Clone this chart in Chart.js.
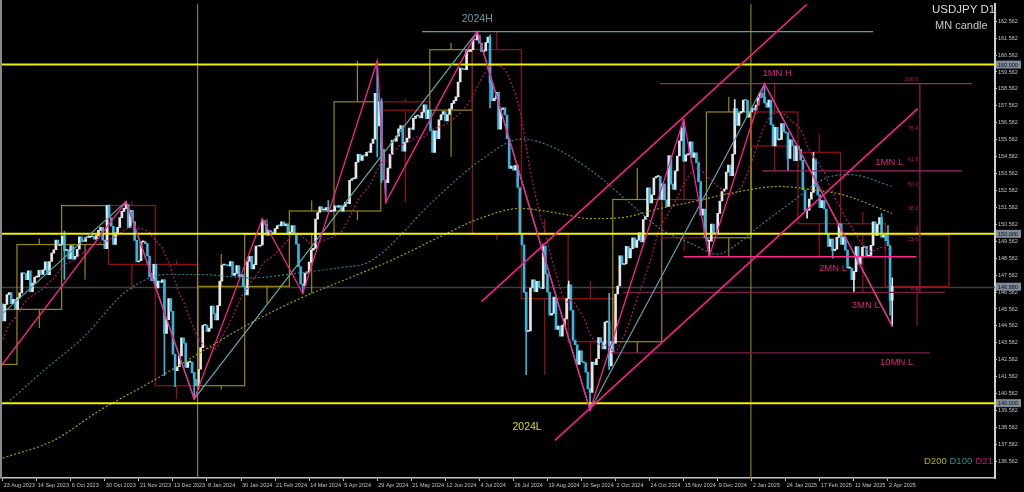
<!DOCTYPE html>
<html>
<head>
<meta charset="utf-8">
<style>
  html, body { margin: 0; padding: 0; background: #000; }
</style>
<script src="https://cdn.jsdelivr.net/npm/chart.js@4.4.1/dist/chart.umd.min.js"></script>
</head>
<body>
<canvas id="chart" width="1024" height="492"></canvas>
<script>
// ---------------- datos ----------------
// cierres previos (26 jul - 22 ago 2023), solo para la media D21
const preCloses = [140.23, 139.52, 141.17, 142.29, 143.31, 143.33, 142.56, 141.76, 142.47, 143.39,
  143.78, 144.72, 144.94, 145.56, 145.59, 146.35, 145.82, 145.38, 146.21, 145.87];

// cierres diarios USDJPY, 23 ago 2023 - 4 abr 2025 (una fila por semana)
const closes = [
  144.85, 145.83, 146.41,
  146.53, 145.88, 146.14, 145.54, 146.22,
  146.51, 147.70, 147.66, 147.30, 147.81,
  146.59, 147.09, 147.44, 147.46, 147.85,
  147.61, 147.87, 148.35, 147.59, 148.37,
  148.86, 149.06, 149.63, 149.31, 149.37,
  149.87, 149.02, 149.05, 148.52, 149.31,
  148.50, 148.67, 149.09, 149.82, 149.58,
  149.55, 149.79, 149.79, 149.83, 149.86,
  149.69, 149.90, 150.21, 150.39, 149.63,
  149.12, 151.67, 150.95, 150.45, 149.38,
  150.06, 150.38, 150.96, 151.33, 151.51,
  151.73, 150.38, 151.39, 150.73, 149.62,
  148.34, 148.41, 149.53, 149.55, 149.42,
  148.69, 147.45, 147.24, 148.20, 146.81,
  147.21, 147.13, 147.29, 144.12, 144.93,
  146.17, 145.42, 142.89, 141.92, 142.15,
  142.79, 143.86, 143.55, 142.11, 142.42,
  142.42, 141.80, 141.41, 141.03,
  // 2024
  142.00, 143.28, 144.60, 144.61,
  144.24, 144.43, 145.74, 145.29, 144.91,
  145.76, 147.21, 148.16, 148.18, 148.13,
  148.11, 148.37, 147.54, 147.67, 148.13,
  147.47, 147.59, 146.90, 146.40, 148.37,
  148.68, 147.93, 148.18, 149.28, 149.27,
  149.34, 150.78, 150.56, 149.93, 150.19,
  150.11, 150.04, 150.31, 150.49, 150.47,
  150.71, 150.48, 150.60, 149.97, 150.10,
  150.49, 149.98, 149.39, 148.06, 147.04,
  146.94, 147.68, 147.75, 148.33, 149.04,
  149.14, 150.87, 151.26, 151.60, 151.41,
  151.42, 151.55, 151.31, 151.35, 151.35,
  151.66, 151.57, 151.67, 151.34, 151.62,
  151.87, 151.78, 153.16, 153.25, 153.28,
  154.23, 154.70, 154.34, 154.63, 154.61,
  154.82, 154.81, 155.34, 155.60, 158.30,
  156.37, 157.80, 155.00, 153.18, 153.02,
  153.88, 154.70, 155.52, 155.47, 155.77,
  156.20, 156.39, 154.88, 155.41, 155.66,
  156.25, 156.17, 156.82, 156.96, 156.99,
  156.85, 157.19, 157.62, 156.80, 157.31,
  156.10, 154.81, 156.09, 155.63, 156.73,
  157.05, 157.22, 156.67, 157.05, 157.38,
  157.71, 157.87, 158.09, 158.97, 159.79,
  159.71, 159.70, 160.78, 160.78, 160.88,
  161.48, 161.45, 161.72, 161.27, 160.77,
  160.80, 161.30, 161.62, 158.92, 157.87,
  158.00, 158.36, 156.19, 157.35, 157.45,
  157.02, 155.62, 153.87, 154.00, 153.76,
  154.05, 152.74, 149.98, 149.35, 146.54,
  144.24, 144.27, 146.80, 147.29, 146.58,
  147.20, 146.82, 146.77, 149.28, 147.64,
  146.56, 145.20, 145.30, 146.27, 144.35,
  144.55, 143.95, 144.61, 144.98, 146.17,
  146.99, 145.49, 143.72, 143.45, 142.29,
  143.09, 142.45, 142.38, 141.83, 140.85,
  140.64, 142.43, 142.28, 142.62, 143.87,
  143.60, 143.20, 144.79, 144.80, 142.20,
  143.63, 143.55, 146.45, 146.92, 148.70,
  148.19, 148.22, 149.27, 148.58, 149.13,
  149.76, 149.20, 149.63, 150.06, 149.52,
  150.85, 151.02, 152.72, 151.83, 152.31,
  153.30, 153.38, 153.42, 152.03, 152.96,
  152.00, 151.62, 154.62, 152.94, 152.63,
  153.72, 154.60, 155.50, 156.26, 154.30,
  154.67, 154.68, 155.43, 154.52, 154.78,
  154.21, 153.09, 151.10, 151.47, 149.77,
  149.57, 149.57, 150.58, 150.07, 149.99,
  151.21, 151.94, 152.50, 152.64, 153.65,
  154.07, 153.44, 154.72, 157.40, 156.40,
  157.13, 157.22, 157.91, 157.89,
  156.90, 157.20,
  // 2025
  157.43, 157.30,
  157.61, 158.04, 158.32, 158.08, 157.74,
  157.48, 157.91, 156.45, 155.20, 156.30,
  155.55, 155.58, 156.52, 156.02, 155.97,
  154.45, 155.55, 155.22, 154.32, 155.19,
  154.99, 154.35, 152.59, 151.38, 151.40,
  152.05, 152.47, 154.42, 152.80, 152.30,
  151.54, 151.96, 151.47, 149.98, 149.26,
  149.69, 149.01, 149.10, 149.79, 150.60,
  149.38, 149.81, 149.04, 147.98, 147.98,
  147.29, 147.77, 149.25, 148.21, 148.64,
  149.20, 149.27, 148.68, 148.73, 149.32,
  150.71, 149.91, 150.57, 150.96, 149.81,
  149.93, 149.60, 149.30, 146.08, 146.88
];

// mechas visibles (maximos / minimos del dia)
const dayHigh = {
  '2023-10-03': 150.16, '2023-11-01': 151.72, '2023-11-13': 151.91, '2024-02-13': 150.89,
  '2024-03-27': 151.97, '2024-04-29': 160.21, '2024-05-01': 157.99, '2024-06-26': 160.87,
  '2024-07-03': 161.95, '2024-07-11': 161.76, '2024-08-15': 149.39, '2024-09-02': 147.21,
  '2024-09-27': 146.49, '2024-11-15': 156.75, '2024-12-19': 157.93, '2025-01-10': 158.87,
  '2025-02-12': 154.80, '2025-03-28': 151.20, '2025-04-02': 150.49, '2025-04-04': 147.40
};
const dayLow = {
  '2023-10-03': 147.31, '2023-12-07': 141.63, '2023-12-14': 140.97, '2023-12-28': 140.25,
  '2024-01-02': 140.81, '2024-03-11': 146.48, '2024-04-29': 154.54, '2024-05-01': 153.04,
  '2024-05-03': 151.86, '2024-07-11': 157.44, '2024-08-05': 141.68, '2024-09-16': 139.58,
  '2024-09-27': 141.98, '2024-10-01': 142.97, '2024-12-03': 148.65, '2025-01-27': 153.72,
  '2025-02-07': 150.93, '2025-02-25': 148.56, '2025-03-11': 146.54, '2025-04-03': 145.19,
  '2025-04-04': 144.55
};

// velas mensuales (MN candle)
const mnMonth = ['2023-08','2023-09','2023-10','2023-11','2023-12','2024-01','2024-02','2024-03','2024-04','2024-05','2024-06',
  '2024-07','2024-08','2024-09','2024-10','2024-11','2024-12','2025-01','2025-02','2025-03','2025-04'];
const mnOpen  = [142.29,145.54,149.37,151.67,148.20,141.03,146.90,149.97,151.35,157.80,157.31,160.88,149.98,146.17,143.63,152.03,149.77,157.20,154.82,150.60,149.93];
const mnHigh  = [147.37,149.71,151.72,151.91,148.41,148.81,150.89,151.97,160.21,157.99,161.27,161.95,150.89,147.21,153.88,156.75,158.08,158.87,155.89,151.30,150.49];
const mnLow   = [141.51,144.44,147.31,146.67,140.25,140.81,145.90,146.48,150.81,151.86,154.55,149.62,141.68,139.58,142.97,148.99,148.65,153.72,148.56,146.54,144.55];
const mnClose = [145.54,149.37,151.67,148.20,141.03,146.90,149.97,151.35,157.80,157.31,160.88,149.98,146.17,143.63,152.03,149.77,157.20,155.19,150.60,149.93,146.88];

// medias D100 y D200 (barra, precio)
const d200At = [0, 24, 46, 69, 93, 116, 140, 163, 182, 205, 224, 243, 262, 276, 290, 309, 328, 342, 365, 381, 395, 418];
const d200Val = [136.75, 137.8, 139.6, 141.2, 143.0, 144.7, 146.2, 147.4, 148.4, 149.8, 150.9, 151.5, 151.2, 150.9, 150.95, 151.5, 152.0, 152.4, 152.8, 152.6, 152.3, 151.2];
const d100At = [2, 20, 38, 58, 77, 93, 116, 140, 158, 173, 202, 224, 244, 257, 277, 293, 309, 324, 336, 343, 356, 371, 387, 398, 418];
const d100Val = [140.0, 142.0, 143.9, 146.6, 147.6, 147.6, 147.4, 147.7, 148.0, 148.4, 151.9, 154.3, 155.6, 155.2, 153.7, 152.0, 150.3, 149.4, 148.8, 149.2, 150.5, 151.9, 153.3, 153.5, 152.8];

// zigzag
const pinkZZ = [['2023-08-22', 142.15], ['2023-11-13', 151.91], ['2023-12-28', 140.25], ['2024-02-13', 150.89],
  ['2024-03-11', 146.48], ['2024-04-29', 160.21], ['2024-05-03', 151.86], ['2024-07-03', 161.95],
  ['2024-09-16', 139.58], ['2024-11-15', 156.75], ['2024-12-03', 148.65], ['2025-01-10', 158.87], ['2025-04-04', 144.55]];
const tealZZ = [['2023-08-23', 145.3], ['2023-11-13', 151.91], ['2023-12-28', 140.25], ['2024-07-03', 161.95],
  ['2024-09-16', 139.58], ['2025-01-10', 158.87], ['2025-04-04', 144.55]];

// canal (barra, precio)
const channelA = [[225, 146.0], [420, 168.4]];
const channelB = [[259.5, 137.8], [430, 157.4]];

// niveles
const roundLevels = [160, 150, 140];
const yearHigh = 161.95, yearLow = 139.58;
const mnLevels = [
  { name: '1MN H', price: 158.87, from: 309, to: 455.5, color: '#9c2a66' },
  { name: '1MN L', price: 153.72, from: 357, to: 450.7, color: '#9c2a66' },
  { name: '2MN L', price: 148.65, from: 320, to: 429.2, color: '#ff2a8c' },
  { name: '3MN L', price: 146.54, from: 291.5, to: 442.8, color: '#7e1d4a' },
  { name: '10MN L', price: 142.97, from: 286, to: 435.8, color: '#7e1d4a' }
];
const fibHigh = 158.87, fibLow = 146.54, fibAt = 431;
const fibLevels = [100, 76.4, 61.8, 50, 38.2, 23.6, 0];

// etiquetas de ejes
const dateTicks = ['23 Aug 2023','14 Sep 2023','6 Oct 2023','30 Oct 2023','21 Nov 2023','13 Dec 2023','8 Jan 2024',
  '30 Jan 2024','21 Feb 2024','14 Mar 2024','5 Apr 2024','29 Apr 2024','21 May 2024','12 Jun 2024','4 Jul 2024',
  '26 Jul 2024','19 Aug 2024','10 Sep 2024','2 Oct 2024','24 Oct 2024','15 Nov 2024','9 Dec 2024','2 Jan 2025',
  '24 Jan 2025','17 Feb 2025','11 Mar 2025','2 Apr 2025'];
const priceTicks = [136.562,137.562,138.562,139.562,140.562,141.562,142.562,143.562,144.562,145.562,146.562,147.562,
  148.562,149.562,150.562,151.562,152.562,153.562,154.562,155.562,156.562,157.562,158.562,159.562,160.562,161.562,162.562];

// ---------------- calendario de barras ----------------
function buildDays(start, n) {
  // dias habiles sin 25 dic ni 1 ene (como el broker)
  const out = [];
  const d = new Date(start + 'T00:00:00Z');
  while (out.length < n) {
    const wd = d.getUTCDay();
    const md = d.getUTCMonth() * 100 + d.getUTCDate();
    if (wd !== 0 && wd !== 6 && md !== 1125 && md !== 1) out.push(d.toISOString().slice(0, 10));
    d.setUTCDate(d.getUTCDate() + 1);
  }
  return out;
}
const allCloses = preCloses.concat(closes);
const calendar = buildDays('2023-07-26', allCloses.length);
const OFF = preCloses.length;
if (calendar[OFF] !== '2023-08-23' || calendar[OFF + 416] !== '2025-04-02') {
  throw new Error('calendario: ' + calendar[OFF] + ' ' + calendar[OFF + 416] + ' n=' + closes.length);
}
const lastIdx = closes.length - 1;
function idxOf(d) {
  const k = calendar.indexOf(d);
  if (k < 0) throw new Error('fecha ' + d);
  return k - OFF;
}
function monthStart(m) {
  const k = calendar.findIndex(d => d.startsWith(m));
  if (k >= 0) return k - OFF;
  // en el futuro MT4 cuenta dias de calendario
  const days = (Date.parse(m + '-01') - Date.parse(calendar[calendar.length - 1])) / 86400000;
  return lastIdx + days;
}
function nextMonth(m) {
  let [y, mo] = m.split('-').map(Number);
  mo++; if (mo > 12) { mo = 1; y++; }
  return y + '-' + String(mo).padStart(2, '0');
}

// colores
const BULL = '#e6e6e6', BEAR = '#35b6dc';
const PINK = '#ff1f8f', TEAL = '#5fa3a8';

// velas
const bodies = [], wicks = [], bodyCol = [], wickCol = [];
closes.forEach((c, i) => {
  const o = allCloses[i + OFF - 1];
  const col = c >= o ? BULL : BEAR;
  bodies.push({ x: i, y: [o, c] });
  bodyCol.push(col);
  const d = calendar[i + OFF];
  if (dayHigh[d] !== undefined || dayLow[d] !== undefined) {
    const hi = dayHigh[d] !== undefined ? dayHigh[d] : Math.max(o, c);
    const lo = dayLow[d] !== undefined ? dayLow[d] : Math.min(o, c);
    wicks.push({ x: i, y: [lo, hi] });
    wickCol.push(col);
  }
});

// media D21
const d21 = [];
for (let i = 0; i < closes.length; i++) {
  let s = 0;
  for (let k = i + OFF - 20; k <= i + OFF; k++) s += allCloses[k];
  d21.push({ x: i, y: s / 21 });
}

function seg(points, color, width, order, dash) {
  return {
    type: 'line', data: points, borderColor: color, borderWidth: width, pointRadius: 0,
    borderDash: dash || [], order: order, tension: 0, spanGaps: true
  };
}

const datasets = [];
datasets.push({ type: 'bar', data: wicks, backgroundColor: wickCol, barThickness: 1, grouped: false, order: 21 });
datasets.push({ type: 'bar', data: bodies, backgroundColor: bodyCol, barThickness: 2, minBarLength: 1, grouped: false, order: 20 });

const curve = (at, val) => at.map((x, k) => ({ x: x, y: val[k] }));
datasets.push(Object.assign(seg(curve(d200At, d200Val), '#a3a300', 1.2, 12, [2, 2]), { tension: 0.4, cubicInterpolationMode: 'monotone' }));
datasets.push(Object.assign(seg(curve(d100At, d100Val), '#2a8089', 1.2, 12, [2, 2]), { tension: 0.4, cubicInterpolationMode: 'monotone' }));
datasets.push(seg(d21, '#b3166f', 1.2, 12, [2, 2]));

// lineas de año
['2024', '2025'].forEach(y => {
  const i = calendar.findIndex(d => d.startsWith(y)) - OFF - 0.4;
  datasets.push(seg([{ x: i, y: 130 }, { x: i, y: 170 }], '#9c9c00', 1, 15));
});
// niveles redondos
roundLevels.forEach(p => datasets.push(seg([{ x: -5, y: p }, { x: 480, y: p }], '#f0f000', 2, 6)));
// 2024H
datasets.push(seg([{ x: 197.1, y: yearHigh }, { x: 409, y: yearHigh }], TEAL, 1.2, 5));
// niveles mensuales
mnLevels.forEach(l => datasets.push(seg([{ x: l.from, y: l.price }, { x: l.to, y: l.price }], l.color, l.name === '2MN L' ? 1.4 : 1.2, 5)));
// fibo vertical
datasets.push(seg([{ x: fibAt, y: fibHigh }, { x: fibAt, y: fibLow }], '#9c1f55', 1.2, 5));
// canal
datasets.push(seg(channelA.map(p => ({ x: p[0], y: p[1] })), PINK, 1.5, 3));
datasets.push(seg(channelB.map(p => ({ x: p[0], y: p[1] })), PINK, 1.5, 3));
// zigzag
datasets.push(seg(tealZZ.map(p => ({ x: idxOf(p[0]), y: p[1] })), TEAL, 1.2, 4));
datasets.push(seg(pinkZZ.map(p => ({ x: idxOf(p[0]), y: p[1] })), PINK, 1.3, 2));

// textos
const notes = [
  { t: '2024H', i: 223, p: yearHigh, dy: -12, align: 'center', c: '#5b9ea6', s: 10.5 },
  { t: '2024L', i: 246.4, p: yearLow, dy: 17, align: 'center', c: '#dcdc1e', s: 10.5 },
  { t: '1MN H', i: 357, p: 158.87, dy: -10, align: 'left', c: '#e0227f', s: 9.5 },
  { t: '1MN L', i: 410, p: 153.72, dy: -9, align: 'left', c: '#e0227f', s: 9.5 },
  { t: '2MN L', i: 383.6, p: 148.65, dy: 12, align: 'left', c: '#e0227f', s: 9.5 },
  { t: '3MN L', i: 399, p: 146.54, dy: 12.5, align: 'left', c: '#e0227f', s: 9.5 },
  { t: '10MN L', i: 412.3, p: 142.97, dy: 10, align: 'left', c: '#e0227f', s: 9.5 }
];
const FONT = "'Liberation Sans', Arial, sans-serif";

const overlay = {
  id: 'overlay',
  beforeDatasetsDraw(chart) {
    const { ctx, chartArea: a, scales: { x, y } } = chart;
    ctx.save();
    ctx.beginPath();
    ctx.rect(a.left, a.top, a.right - a.left, a.bottom - a.top);
    ctx.clip();
    // precio actual
    const yp = Math.round(y.getPixelForValue(closes[lastIdx])) + 0.5;
    ctx.strokeStyle = '#3a4046'; ctx.lineWidth = 1.5;
    ctx.beginPath(); ctx.moveTo(a.left, yp); ctx.lineTo(a.right, yp); ctx.stroke();
    // velas mensuales
    mnMonth.forEach((m, k) => {
      const i0 = monthStart(m) - 0.3, i1 = monthStart(nextMonth(m)) - 0.3;
      const xl = x.getPixelForValue(i0), xr = x.getPixelForValue(i1), xm = (xl + xr) / 2;
      const yo = y.getPixelForValue(mnOpen[k]), yc = y.getPixelForValue(mnClose[k]);
      const top = Math.min(yo, yc), bot = Math.max(yo, yc);
      ctx.strokeStyle = mnClose[k] >= mnOpen[k] ? '#9a8a0c' : '#9a1212';
      ctx.lineWidth = 1.2;
      ctx.strokeRect(xl, top, xr - xl, bot - top);
      ctx.beginPath();
      ctx.moveTo(xm, top); ctx.lineTo(xm, y.getPixelForValue(mnHigh[k]));
      ctx.moveTo(xm, bot); ctx.lineTo(xm, y.getPixelForValue(mnLow[k]));
      ctx.stroke();
    });
    ctx.restore();
  },
  afterDatasetsDraw(chart) {
    const { ctx, chartArea: a, scales: { x, y } } = chart;
    ctx.save();
    ctx.textBaseline = 'middle';
    notes.forEach(n => {
      ctx.font = n.s + 'px ' + FONT;
      ctx.fillStyle = n.c;
      ctx.textAlign = n.align;
      ctx.fillText(n.t, x.getPixelForValue(n.i), y.getPixelForValue(n.p) + n.dy);
    });
    // niveles fibo
    ctx.font = '5.5px ' + FONT;
    ctx.fillStyle = '#b0185f';
    ctx.textAlign = 'right';
    fibLevels.forEach(l => {
      const p = fibLow + (fibHigh - fibLow) * l / 100;
      ctx.fillText(l.toFixed(1), x.getPixelForValue(fibAt) - 1.5, y.getPixelForValue(p) - 4);
    });
    // titulo y leyenda
    ctx.textAlign = 'left';
    ctx.font = '11.5px ' + FONT;
    ctx.fillStyle = '#dcdcdc';
    ctx.fillText('USDJPY D1', 932, 10);
    ctx.font = '11px ' + FONT;
    ctx.fillStyle = '#c8c8c8';
    ctx.fillText('MN candle', 935, 26);
    ctx.font = '9.5px ' + FONT;
    [['D200', '#b4b400', 924], ['D100', '#2f8c96', 949.5], ['D21', '#c0157a', 975.5]].forEach(t => {
      ctx.fillStyle = t[1];
      ctx.fillText(t[0], t[2], 461);
    });
    ctx.restore();
  },
  afterDraw(chart) {
    const { ctx, chartArea: a, scales: { y } } = chart;
    ctx.save();
    // borde izquierdo
    ctx.fillStyle = '#8a8a8a';
    ctx.fillRect(0, 0, 2, a.bottom);
    // etiquetas de precio en el eje
    ctx.font = '5.5px ' + FONT;
    ctx.textAlign = 'left';
    ctx.textBaseline = 'middle';
    roundLevels.concat([closes[lastIdx]]).forEach(p => {
      const yy = y.getPixelForValue(p);
      ctx.fillStyle = '#7d8a97';
      ctx.fillRect(a.right + 1, yy - 4, 25, 8);
      ctx.fillStyle = '#101418';
      ctx.fillText(p.toFixed(3), a.right + 3, yy + 0.5);
    });
    ctx.restore();
  }
};

const axisFont = { size: 5.5, family: FONT };
new Chart(document.getElementById('chart'), {
  type: 'bar',
  data: { datasets: datasets },
  options: {
    responsive: false,
    animation: false,
    devicePixelRatio: 1,
    layout: { padding: { top: 2, left: 0, right: 0, bottom: 0 } },
    plugins: { legend: { display: false }, tooltip: { enabled: false } },
    scales: {
      x: {
        type: 'linear', offset: false, min: -1.27, max: 466.3,
        afterBuildTicks: s => { s.ticks = dateTicks.map((t, k) => ({ value: k * 16 })); },
        afterFit: s => { s.height = 14; },
        ticks: { autoSkip: false, maxRotation: 0, align: 'start', labelOffset: 1, padding: 1, color: '#c4c4c4', font: axisFont,
          callback: (v, k) => dateTicks[k] },
        grid: { display: true, offset: false, drawOnChartArea: false, tickLength: 3, color: '#c4c4c4' },
        border: { display: true, color: '#c4c4c4', width: 1.5 }
      },
      y: {
        position: 'right', min: 135.578, max: 163.561,
        afterBuildTicks: s => { s.ticks = priceTicks.map(v => ({ value: v })); },
        afterFit: s => { s.width = 29; },
        ticks: { padding: 1, color: '#c4c4c4', font: axisFont, callback: v => v.toFixed(3) },
        grid: { display: true, drawOnChartArea: false, tickLength: 2, color: '#c4c4c4' },
        border: { display: true, color: '#d0d0d0', width: 2 }
      }
    }
  },
  plugins: [overlay]
});
</script>
</body>
</html>
